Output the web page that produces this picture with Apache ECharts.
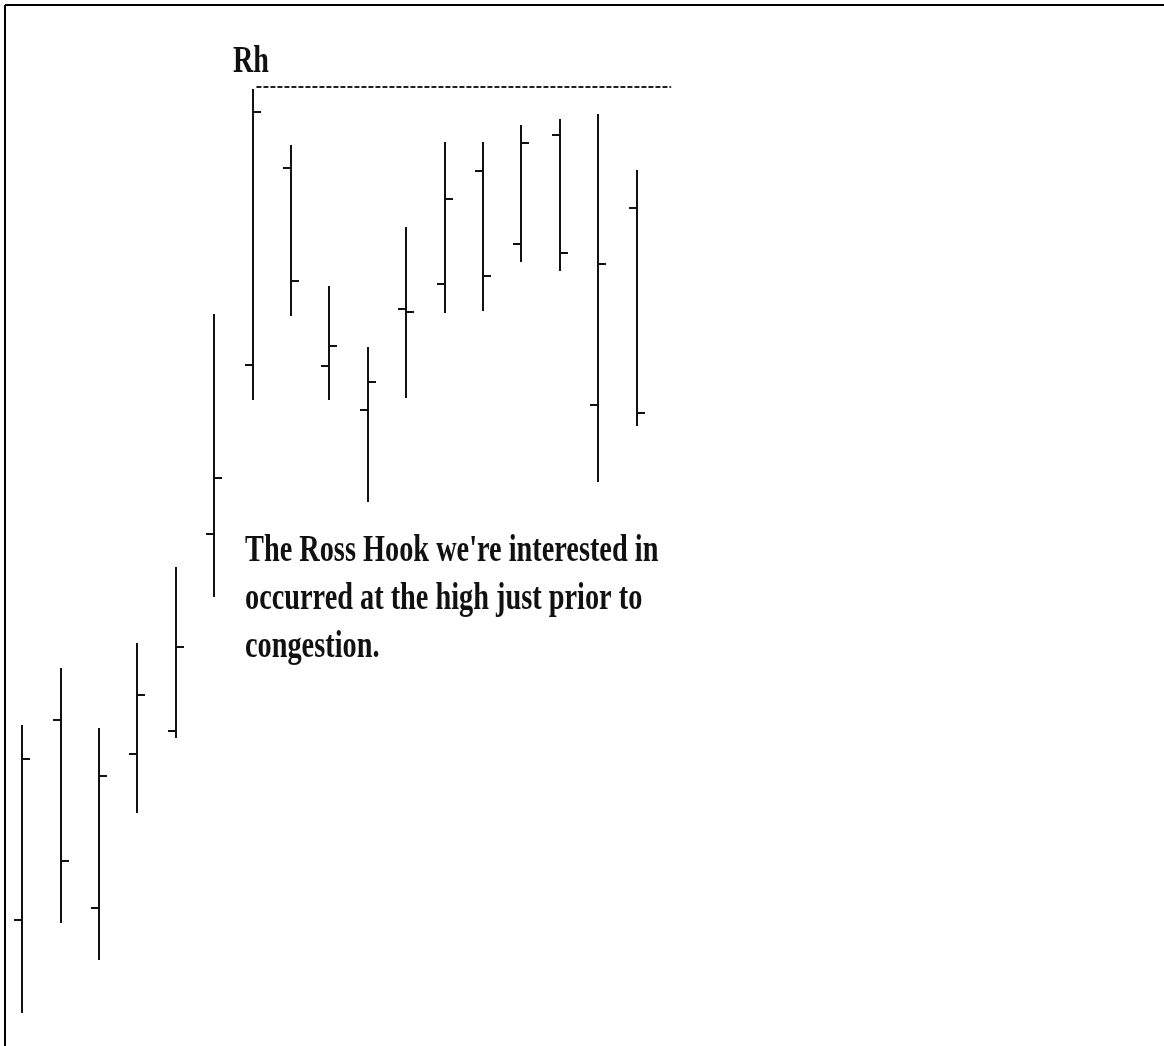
<!DOCTYPE html>
<html>
<head>
<meta charset="utf-8">
<title>Ross Hook</title>
<script src="https://cdn.jsdelivr.net/npm/echarts@6/dist/echarts.min.js"></script>
<style>
  html, body { margin: 0; padding: 0; background: #fff; }
  #chart { width: 1164px; height: 1046px; }
</style>
</head>
<body>
<div id="chart"></div>
<script>
// bar index (one per session)
var bars = [0, 1, 2, 3, 4, 5, 6, 7, 8, 9, 10, 11, 12, 13, 14, 15, 16];
// open (left tick), high, low, close (right tick)
var opens  = [12.0, 32.0, 13.2, 28.6, 30.9, 50.6, 67.5, 87.2, 67.4, 63.0, 73.1, 75.6, 86.9, 79.6, 90.5, 63.5, 83.2];
var highs  = [31.5, 37.2, 31.2, 39.7, 47.3, 72.6, 95.1, 89.5, 75.4, 69.3, 81.3, 89.8, 89.8, 91.5, 92.1, 92.6, 87.0];
var lows   = [ 2.7, 11.7,  8.0, 22.7, 30.2, 44.3, 64.0, 72.4, 64.0, 53.8, 64.2, 72.7, 72.9, 77.8, 76.9, 55.8, 61.4];
var closes = [28.1, 17.9, 26.4, 34.5, 39.3, 56.2, 92.8, 75.9, 69.4, 65.8, 72.8, 84.1, 76.4, 89.7, 78.7, 77.6, 62.7];

// Ross hook level (high of bar 7) and how far the dashed line runs
var rhLevel = 95.3;
var rhSpan = [6.1, 16.9];

var ohlc = bars.map(function (b, i) {
  return [b, opens[i], highs[i], lows[i], closes[i]];
});

var TICK = 8;
function renderBar(params, api) {
  var x = api.value(0);
  var o = api.coord([x, api.value(1)]);
  var h = api.coord([x, api.value(2)]);
  var l = api.coord([x, api.value(3)]);
  var c = api.coord([x, api.value(4)]);
  var px = Math.round(h[0]);
  var st = {stroke: '#111', lineWidth: 2};
  return {
    type: 'group',
    children: [
      {type: 'line', shape: {x1: px, y1: h[1], x2: px, y2: l[1]}, style: st},
      {type: 'line', shape: {x1: px - TICK, y1: Math.round(o[1]), x2: px, y2: Math.round(o[1])}, style: st},
      {type: 'line', shape: {x1: px, y1: Math.round(c[1]), x2: px + TICK, y2: Math.round(c[1])}, style: st}
    ]
  };
}

var chart = echarts.init(document.getElementById('chart'));
var font = 'bold 38px "Liberation Serif", serif';
var option = {
  backgroundColor: '#ffffff',
  animation: false,
  grid: {left: 3, right: 9, top: 40, bottom: 6},
  xAxis: {type: 'value', min: -0.5, max: 29.5, show: false},
  yAxis: {type: 'value', min: 0, max: 100, show: false},
  series: [
    {
      type: 'custom',
      renderItem: renderBar,
      data: ohlc
    },
    {
      type: 'line',
      data: [[rhSpan[0], rhLevel], [rhSpan[1], rhLevel]],
      symbol: 'none',
      lineStyle: {color: '#222', width: 2, type: [5, 2]}
    }
  ],
  graphic: [
    {type: 'line', shape: {x1: 5, y1: 5, x2: 1164, y2: 5}, style: {stroke: '#000', lineWidth: 2}},
    {type: 'line', shape: {x1: 5, y1: 5, x2: 5, y2: 1046}, style: {stroke: '#000', lineWidth: 2}},
    {type: 'text', x: 233, y: 43, scaleX: 0.74, style: {text: 'Rh', font: font, fill: '#111', verticalAlign: 'top'}},
    {type: 'text', x: 245, y: 532, scaleX: 0.745, style: {text: "The Ross Hook we're interested in", font: font, fill: '#111', verticalAlign: 'top'}},
    {type: 'text', x: 245, y: 580, scaleX: 0.745, style: {text: 'occurred at the high just prior to', font: font, fill: '#111', verticalAlign: 'top'}},
    {type: 'text', x: 245, y: 628, scaleX: 0.745, style: {text: 'congestion.', font: font, fill: '#111', verticalAlign: 'top'}}
  ]
};
chart.setOption(option);
</script>
</body>
</html>
